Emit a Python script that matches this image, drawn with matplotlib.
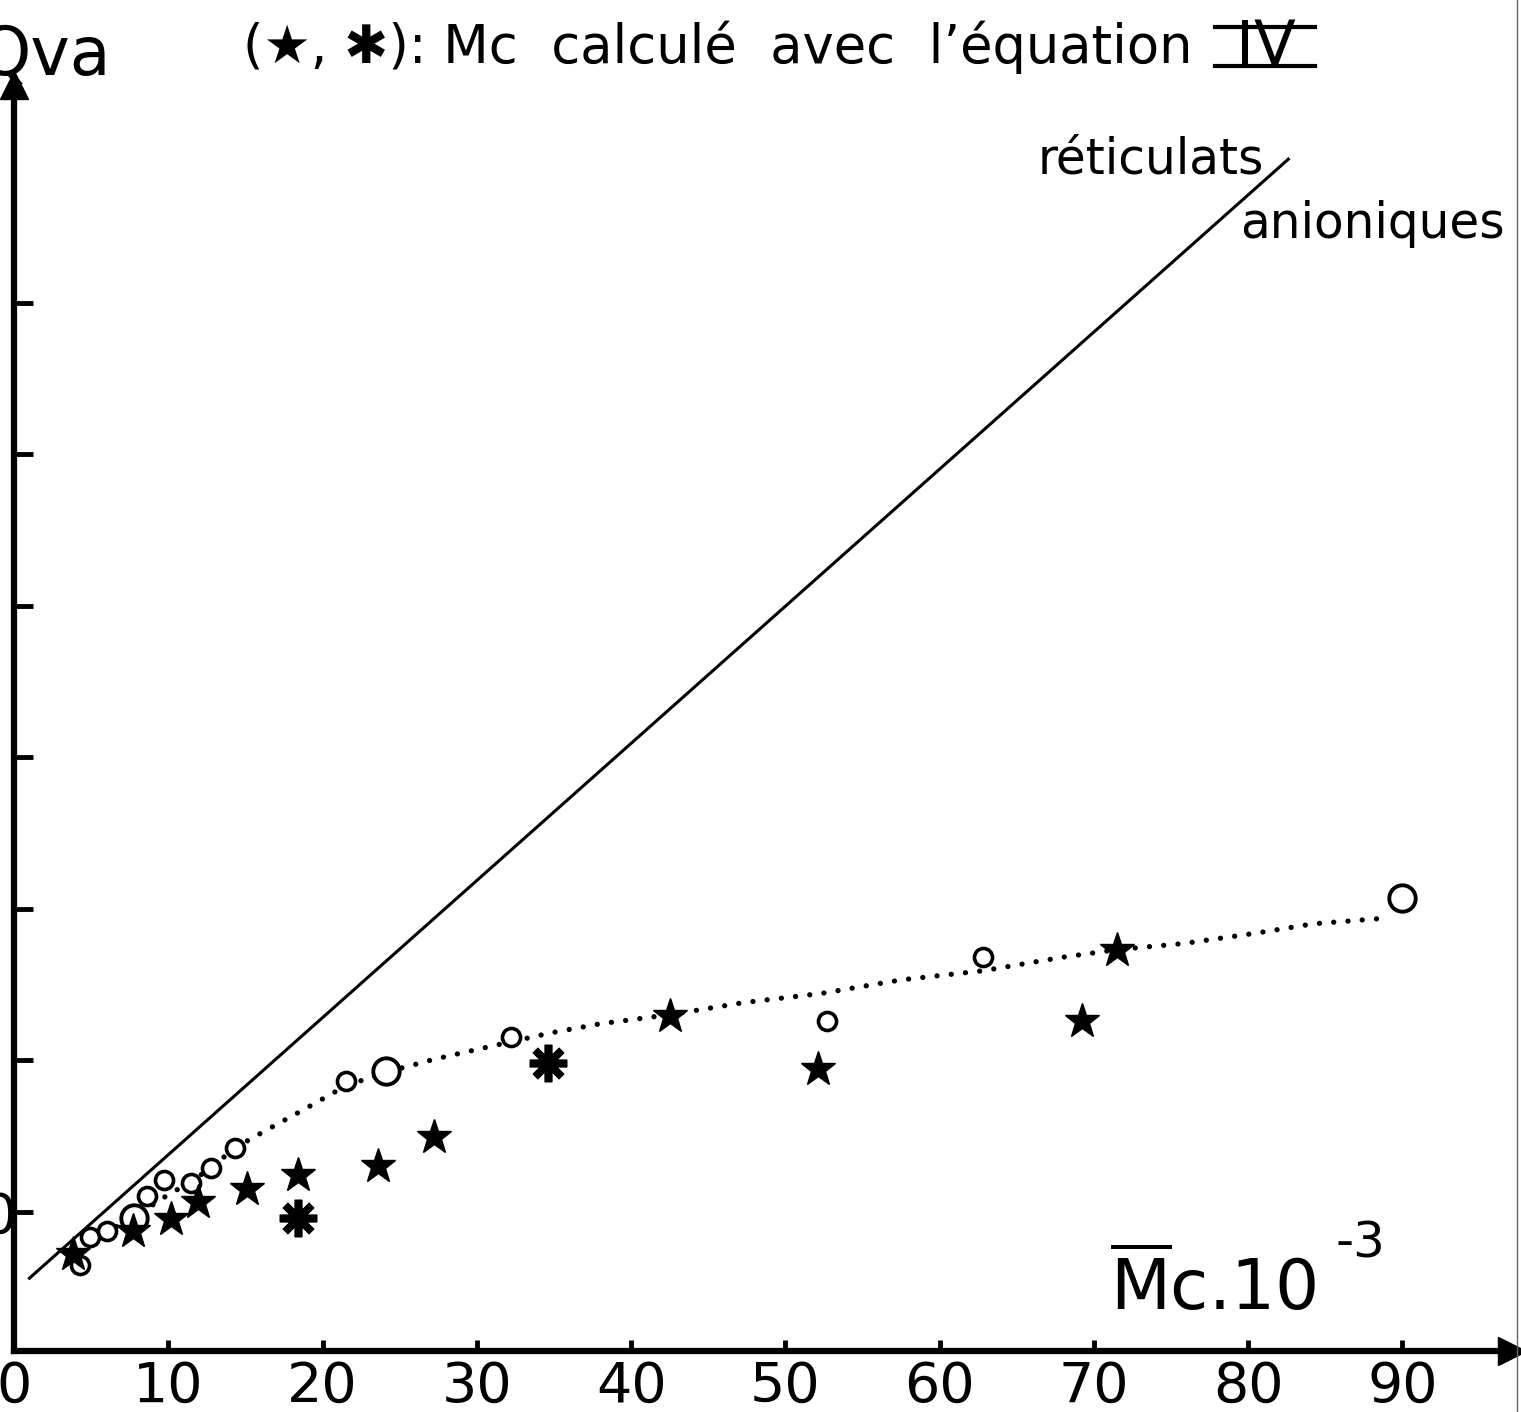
import matplotlib
matplotlib.use("Agg")
from matplotlib import pyplot as plt
from matplotlib.lines import Line2D

# Mc.10^-3 (x) against Qva (y)
circ_small_x = [4.3, 4.9, 6.0, 8.6, 9.7, 11.5, 12.8, 14.3, 21.5, 32.2, 52.7, 62.8]
circ_small_y = [0.65, 0.83, 0.87, 1.10, 1.21, 1.19, 1.29, 1.42, 1.86, 2.15, 2.26, 2.68]
circ_big_x = [7.8, 24.1, 90.0]
circ_big_y = [0.96, 1.93, 3.07]
star_x = [3.8, 7.7, 10.2, 11.9, 15.1, 18.4, 23.6, 27.2, 42.5, 52.1, 69.2, 71.5]
star_y = [0.72, 0.87, 0.95, 1.06, 1.15, 1.24, 1.30, 1.49, 2.29, 1.94, 2.26, 2.73]
ast_x = [18.4, 34.6]
ast_y = [0.96, 1.98]

# straight line for the anionic networks
line_x = [1.0, 82.6]
line_y = [0.56, 7.95]

# hand drawn dotted curve through the open circles
curve_x = [4.9, 6.0, 7.8, 9.5, 11.5, 12.8, 14.3, 16.4, 18.9, 21.5, 24.1, 27.4,
           31.3, 34.8, 38.0, 42.5, 47.3, 52.3, 57.5, 62.8, 68.0, 71.5, 75.8,
           80.6, 84.2, 89.2]
curve_y = [0.83, 0.87, 0.96, 1.08, 1.20, 1.29, 1.42, 1.54, 1.68, 1.83, 1.92, 2.01,
           2.10, 2.18, 2.24, 2.30, 2.38, 2.44, 2.53, 2.59, 2.68, 2.73, 2.77,
           2.84, 2.90, 2.94]

x_ticks = [0, 10, 20, 30, 40, 50, 60, 70, 80, 90]
y_ticks = [1, 2, 3, 4, 5, 6, 7]

W, H = 1521, 1412
plt.rcParams["font.family"] = ["DejaVu Sans"]
plt.rcParams["mathtext.fontset"] = "dejavusans"
fig = plt.figure(figsize=(W / 100, H / 100), dpi=100)
ax = fig.add_axes([14 / W, 61 / H, 1498 / W, 1266 / H])
ax.set_xlim(0, 97.1)
ax.set_ylim(0.079, 8.44)

# axes drawn as thick arrows
for s in ["top", "right"]:
    ax.spines[s].set_visible(False)
for s in ["left", "bottom"]:
    ax.spines[s].set_linewidth(4.5)
ax.plot(1, 0, ">", color="black", ms=20, transform=ax.transAxes, clip_on=False)
ax.plot(0, 1, "^", color="black", ms=20, transform=ax.transAxes, clip_on=False)

ax.set_xticks(x_ticks)
ax.set_xticklabels([str(t) for t in x_ticks])
ax.set_yticks(y_ticks)
ax.set_yticklabels(["0", "", "", "", "", "", ""])
ax.tick_params(axis="x", direction="in", length=8, width=3.5, labelsize=40, pad=6)
ax.tick_params(axis="y", direction="in", length=14, width=3.5, labelsize=40, pad=-2)

ax.plot(line_x, line_y, color="black", lw=2.2, zorder=2)
ax.plot(curve_x, curve_y, color="black", lw=3.8, ls=(0, (0.01, 2.7)),
        dash_capstyle="round", zorder=2)

ax.plot(circ_small_x, circ_small_y, "o", ms=13, mfc="white", mec="black",
        mew=2.6, ls="none", zorder=3)
ax.plot(circ_big_x, circ_big_y, "o", ms=19, mfc="white", mec="black",
        mew=2.8, ls="none", zorder=3)
ax.plot(star_x, star_y, "*", ms=26, color="black", ls="none", zorder=4)
ax.plot(ast_x, ast_y, marker=(8, 2, 0), ms=27, mew=5.5, color="black",
        ls="none", zorder=4)
ax.plot(ast_x, ast_y, "o", ms=10, color="black", ls="none", zorder=4)

# labels
fig.text(-22 / W, 1 - 75 / H, "Qva", fontsize=48, va="baseline")
fig.text(243 / W, 1 - 63 / H, "(★, ✱): Mc  calculé  avec  l’équation",
         fontsize=38, va="baseline")
fig.text(1266 / W, 1 - 64 / H, "IV", fontsize=44, va="baseline", ha="center")
fig.add_artist(Line2D([1215 / W, 1315 / W], [1 - 27 / H, 1 - 27 / H],
                      color="black", lw=3))
fig.add_artist(Line2D([1215 / W, 1315 / W], [1 - 66 / H, 1 - 66 / H],
                      color="black", lw=3))
fig.text(1038 / W, 1 - 173 / H, "réticulats", fontsize=35, va="baseline")
fig.text(1240 / W, 1 - 238 / H, "anioniques", fontsize=35, va="baseline")
fig.text(1110 / W, 1 - 1310 / H, r"$\overline{\mathrm{M}}$c.10",
         fontsize=50, va="baseline")
fig.text(1336 / W, 1 - 1258 / H, "-3", fontsize=36, va="baseline")

# page edge of the scan
fig.add_artist(Line2D([1517 / W, 1517 / W], [0, 1], color="0.4", lw=1))

fig.savefig("out.png", dpi=100)
